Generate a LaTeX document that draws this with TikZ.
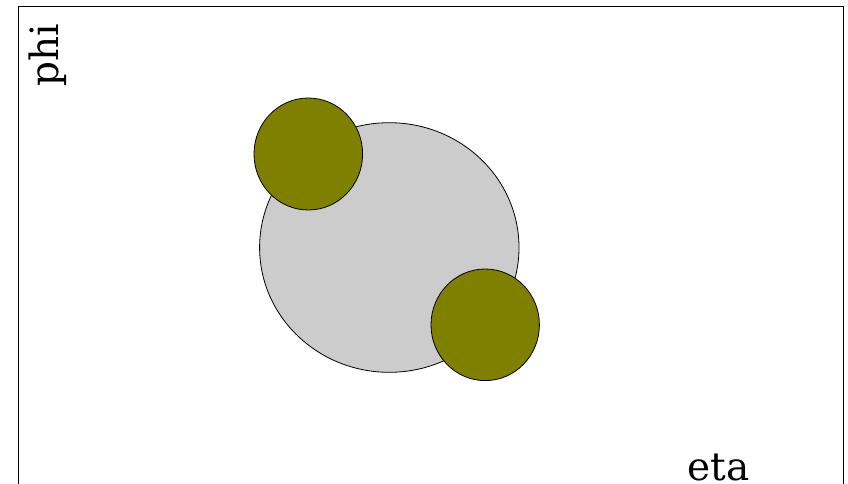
\documentclass[tikz,border=0pt]{standalone}
\usepackage{fontspec}
\setmainfont{DejaVu Serif}
\definecolor{lightgrayfill}{HTML}{CCCCCC}
\definecolor{olivefill}{HTML}{808000}
\tikzset{
  frame/.style={draw=black, line width=1pt},
  bigblob/.style={draw=black, line width=0.8pt, fill=lightgrayfill},
  smallblob/.style={draw=black, line width=0.8pt, fill=olivefill},
  axislabel/.style={inner sep=0pt, font=\fontsize{39}{39}\selectfont}
}
\begin{document}
\begin{tikzpicture}[x=1pt, y=-1pt]
\useasboundingbox (0,0) rectangle (848,483);
\fill[white] (0,0) rectangle (848,483);
\begin{scope}
\clip (0,0) rectangle (848,483);
\draw[frame] (18.3,6.5) rectangle (843.8,520);
\end{scope}
\path[bigblob] (389.3,247.5) ellipse [x radius=129.7, y radius=124.8];
\path[smallblob] (308.3,154) ellipse [x radius=54.3, y radius=56];
\path[smallblob] (485.2,324.8) ellipse [x radius=54.2, y radius=55.8];
\node[axislabel, anchor=base west] (eta) at (687.5,480) {eta};
\node[axislabel, anchor=base west, rotate=90] (phi) at (58.5,87) {phi};
\end{tikzpicture}
\end{document}
